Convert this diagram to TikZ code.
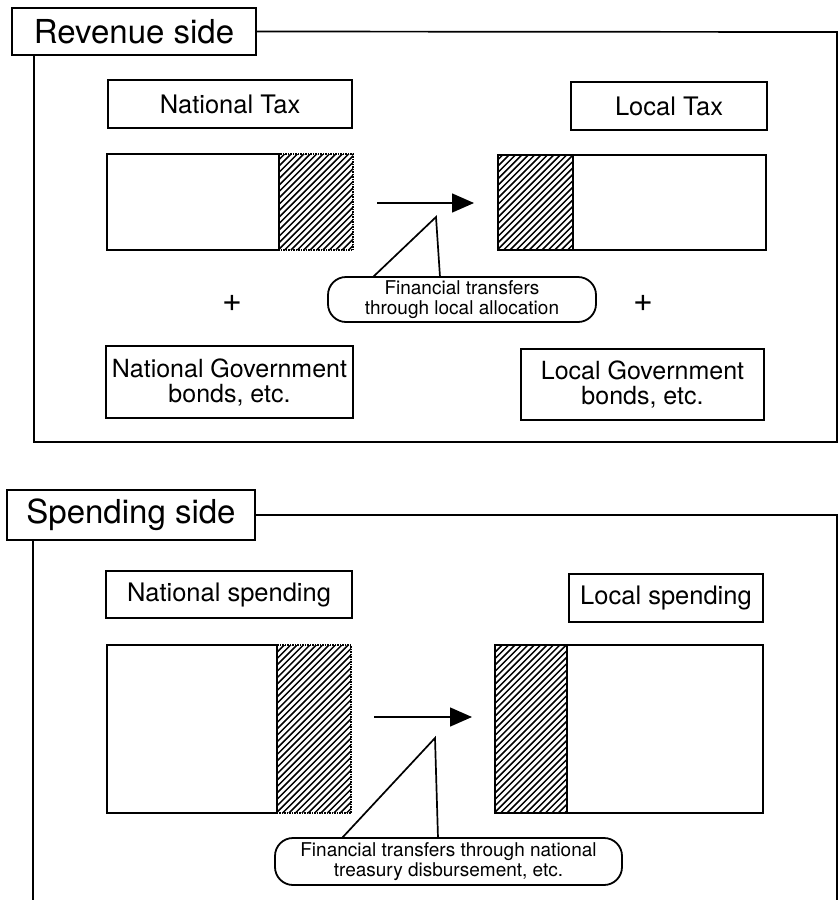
\documentclass[tikz,border=0pt]{standalone}
\usepackage{fontspec}
\setmainfont{TeX Gyre Heros}
\usetikzlibrary{arrows.meta}
\newcommand\hatcharea[4]{%
  \begin{scope}
    \clip (#1,#2) rectangle (#3,#4);
    \foreach \k in {0,...,56} {\draw[hatchline] ({#1-180+\k*6.4},#4) -- ++(200,-200);}
  \end{scope}}
\begin{document}
\begin{tikzpicture}[x=1pt,y=-1pt,
  sideframe/.style={line width=1.7pt},
  titlebox/.style={draw,line width=1.8pt,inner sep=0pt,font=\fontsize{33}{36}\selectfont},
  labelbox/.style={draw,line width=1.8pt,inner sep=0pt,align=center,font=\fontsize{25.5}{26}\selectfont},
  bondbox/.style={draw,line width=1.8pt,inner sep=0pt,align=center,font=\fontsize{25}{25}\selectfont},
  barbox/.style={line width=1.8pt},
  hatchline/.style={line width=1.5pt},
  hatchedge/.style={line width=1.5pt,densely dotted},
  flow/.style={line width=1.5pt,-{Triangle[length=22pt,width=19pt]}},
  callout/.style={draw,line width=1.8pt,rounded corners=18pt,inner sep=0pt,align=center,font=\fontsize{19}{20}\selectfont},
  pointer/.style={line width=1.7pt},
  plus/.style={inner sep=0pt,font=\fontsize{34}{36}\selectfont}
]
\useasboundingbox (0,0) rectangle (838,900);

% ---------------- Revenue side ----------------
\node[titlebox,minimum width=244pt,minimum height=47pt] (revt) at (134,31.5) {Revenue side};
\coordinate (revTR) at (837,32);
\coordinate (revBR) at (837,442);
\coordinate (revBL) at (34,442);
\coordinate (revTL) at (34,55);
\draw[sideframe] (revt.east) -- (revTR) -- (revBR) -- (revBL) -- (revTL);

\node[labelbox,minimum width=244pt,minimum height=48pt] (ntax) at (230,104) {National Tax};
\node[labelbox,minimum width=196pt,minimum height=48pt] (ltax) at (669,106) {Local Tax};

% national tax bar
\hatcharea{279}{154}{353}{250}
\draw[hatchedge] (279,154) rectangle (353,250);
\draw[barbox] (279,154) -- (107,154) -- (107,250) -- (279,250) -- cycle;
% local tax bar
\hatcharea{498}{155}{573}{250}
\draw[barbox] (498,155) rectangle (766,250);
\draw[barbox] (573,155) -- (573,250);

\coordinate (ra1) at (377,203);
\coordinate (ra2) at (474,203);
\draw[flow] (ra1) -- (ra2);

\node[callout,minimum width=268pt,minimum height=45pt] (rcall) at (462,299.5) {Financial transfers\\through local allocation};
\coordinate (rpl) at (373,277);
\coordinate (rpt) at (436,217);
\coordinate (rpr) at (440,277);
\fill[white] ([yshift=2pt]rpl) -- (rpt) -- ([yshift=2pt]rpr) -- cycle;
\draw[pointer] (rpl) -- (rpt) -- (rpr);

\node[plus] (rplus1) at (232,303) {+};
\node[plus] (rplus2) at (643,303) {+};

\node[bondbox,minimum width=247pt,minimum height=72pt] (nbond) at (229.5,382) {National Government\\bonds, etc.};
\node[bondbox,minimum width=243pt,minimum height=71pt] (lbond) at (642.5,384.5) {Local Government\\bonds, etc.};

% ---------------- Spending side ----------------
\node[titlebox,minimum width=248pt,minimum height=50pt] (spt) at (131,515) {Spending side};
\coordinate (spTR) at (837,515);
\coordinate (spBR) at (837,900);
\coordinate (spTL) at (33,540);
\coordinate (spBL) at (33,900);
\draw[sideframe] (spt.east) -- (spTR) -- (spBR);
\draw[sideframe] (spTL) -- (spBL);

\node[labelbox,minimum width=246pt,minimum height=47pt] (nsp) at (229,594.5) {National spending};
\node[labelbox,minimum width=194pt,minimum height=48pt] (lsp) at (666,598) {Local spending};

% national spending bar
\hatcharea{277}{645}{351}{813}
\draw[hatchedge] (277,645) rectangle (351,813);
\draw[barbox] (277,645) -- (107,645) -- (107,813) -- (277,813) -- cycle;
% local spending bar
\hatcharea{495}{645}{567}{813}
\draw[barbox] (495,645) rectangle (763,813);
\draw[barbox] (567,645) -- (567,813);

\coordinate (sa1) at (374,717);
\coordinate (sa2) at (472,717);
\draw[flow] (sa1) -- (sa2);

\node[callout,minimum width=347pt,minimum height=47pt] (scall) at (448.5,861.5) {Financial transfers through national\\treasury disbursement, etc.};
\coordinate (spl) at (342,838);
\coordinate (spp) at (435,738);
\coordinate (spr) at (438,838);
\fill[white] ([yshift=2pt]spl) -- (spp) -- ([yshift=2pt]spr) -- cycle;
\draw[pointer] (spl) -- (spp) -- (spr);
\end{tikzpicture}
\end{document}
